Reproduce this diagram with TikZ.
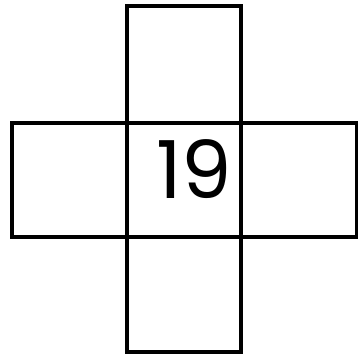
\documentclass[tikz,border=0pt]{standalone}
\usepackage{fontspec}
\newfontfamily\digitfont{Poppins}
\begin{document}
\begin{tikzpicture}[x=1pt,y=-1pt,
  cell/.style={draw=black,line width=3.2pt,line join=miter}]
\useasboundingbox (0,0) rectangle (358,356);
\draw[cell] (127,6) rectangle (241,352);
\draw[cell] (12,123) rectangle (357,237);
\draw[cell] (127,123) -- (127,237);
\draw[cell] (241,123) -- (241,237);
\node[anchor=center,inner sep=0pt] (n19) at (194,169) {\digitfont\fontsize{80}{80}\selectfont 19};
\end{tikzpicture}
\end{document}
